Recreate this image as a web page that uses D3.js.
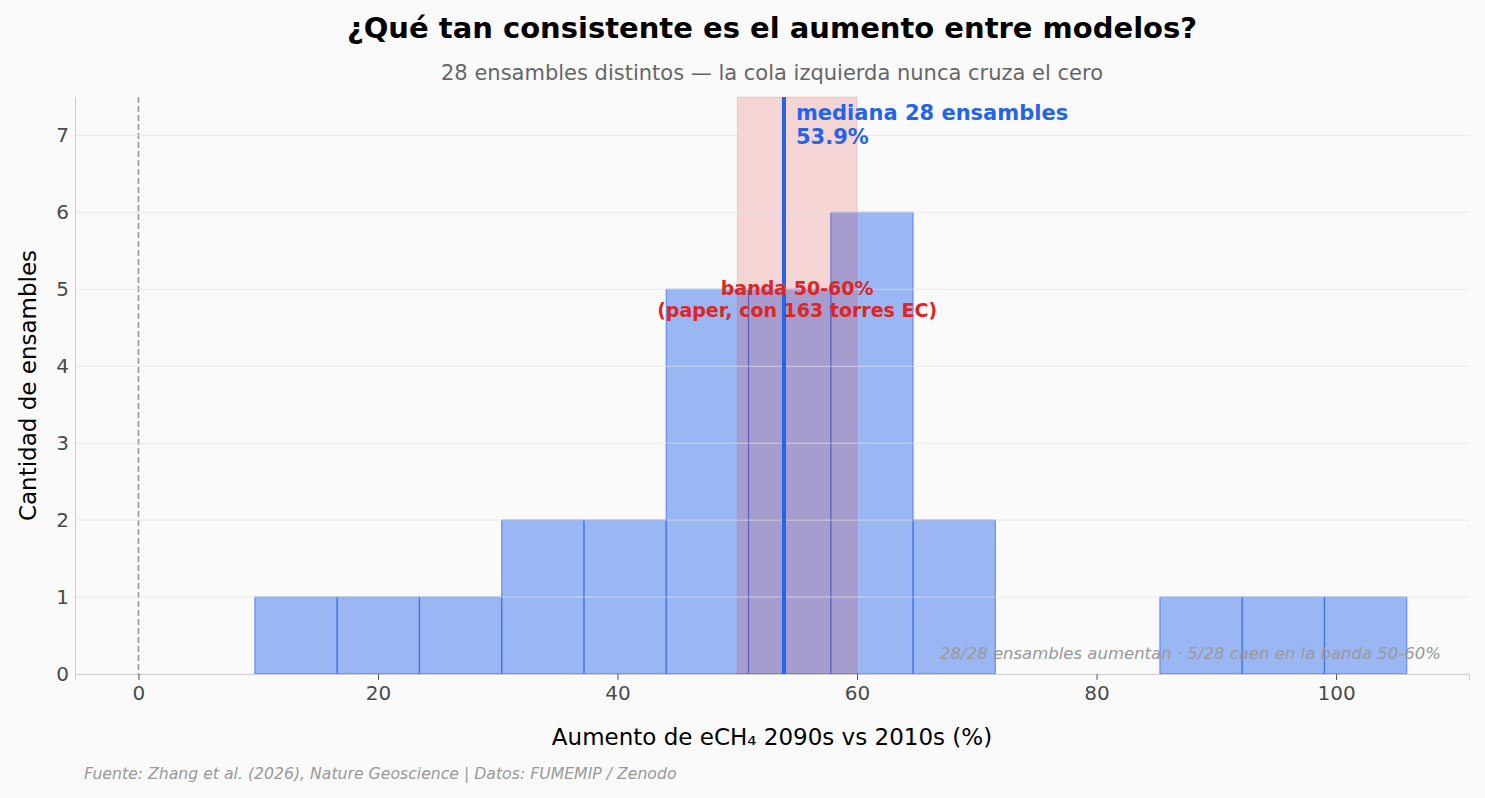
<!DOCTYPE html>
<html>
<head>
<meta charset="utf-8">
<script src="https://cdn.jsdelivr.net/npm/d3@7"></script>
<style>
  body { margin: 0; background: #fafafa; }
  text { font-family: "DejaVu Sans", sans-serif; }
</style>
</head>
<body>
<div id="chart"></div>
<script>
// histogram bins
const binEdges = [9.72, 16.59, 23.46, 30.33, 37.2, 44.07, 50.94, 57.81, 64.68, 71.55, 78.42, 85.29, 92.16, 99.03, 105.9];
const binCounts = [1, 1, 1, 2, 2, 5, 5, 6, 2, 0, 0, 1, 1, 1];
const xTicks = [0, 20, 40, 60, 80, 100];
const yTicks = [0, 1, 2, 3, 4, 5, 6, 7];
const median = 53.9;
const band = [50, 60];

const width = 1485, height = 798;
const plotLeft = 75, plotRight = 1469, plotTop = 97, plotBottom = 674;

const svg = d3.select("#chart").append("svg")
  .attr("width", width).attr("height", height)
  .style("background", "#fafafa");

const x = d3.scaleLinear().domain([-5.3, 111.1]).range([plotLeft, plotRight]);
const y = d3.scaleLinear().domain([0, 7.5]).range([plotBottom, plotTop]);

const bins = binCounts.map(function (c, i) {
  return { x0: binEdges[i], x1: binEdges[i + 1], n: c };
});

// zero line reference
svg.append("line")
  .attr("x1", x(0)).attr("x2", x(0))
  .attr("y1", plotTop).attr("y2", plotBottom)
  .attr("stroke", "#999").attr("stroke-width", 1.6)
  .attr("stroke-dasharray", "6,3");

// bars
svg.append("g").selectAll("rect")
  .data(bins).enter()
  .append("rect")
  .attr("x", function (d) { return x(d.x0); })
  .attr("width", function (d) { return x(d.x1) - x(d.x0); })
  .attr("y", function (d) { return y(d.n); })
  .attr("height", function (d) { return y(0) - y(d.n); })
  .attr("fill", "#2563eb").attr("fill-opacity", 0.45)
  .attr("stroke", "#2563eb").attr("stroke-opacity", 0.6)
  .attr("stroke-width", 1.2);

// band 50-60
svg.append("rect")
  .attr("x", x(band[0])).attr("width", x(band[1]) - x(band[0]))
  .attr("y", plotTop).attr("height", plotBottom - plotTop)
  .attr("fill", "#dc2626").attr("fill-opacity", 0.18)
  .attr("stroke", "#dc2626").attr("stroke-opacity", 0.15);

// grid
svg.append("g").selectAll("line")
  .data(yTicks.slice(1)).enter()
  .append("line")
  .attr("x1", plotLeft).attr("x2", plotRight)
  .attr("y1", function (d) { return y(d); })
  .attr("y2", function (d) { return y(d); })
  .attr("stroke", "#e2e2e2").attr("stroke-opacity", 0.7);

// median line
svg.append("line")
  .attr("x1", x(median)).attr("x2", x(median))
  .attr("y1", plotTop).attr("y2", plotBottom)
  .attr("stroke", "#2563eb").attr("stroke-width", 4);

const medLabel = svg.append("text")
  .attr("x", x(median + 1)).attr("y", y(7.4))
  .style("font-size", "21px").style("font-weight", "bold")
  .style("fill", "#2563eb");
medLabel.append("tspan").attr("x", x(median + 1)).attr("dy", "0.75em").text("mediana 28 ensambles");
medLabel.append("tspan").attr("x", x(median + 1)).attr("dy", "1.1em").text(median.toFixed(1) + "%");

const bandLabel = svg.append("text")
  .attr("x", x(55)).attr("y", y(5.1))
  .attr("text-anchor", "middle")
  .style("font-size", "19px").style("font-weight", "bold")
  .style("fill", "#dc2626");
bandLabel.append("tspan").attr("x", x(55)).attr("dy", "0.72em").text("banda 50-60%");
bandLabel.append("tspan").attr("x", x(55)).attr("dy", "1.15em").text("(paper, con 163 torres EC)");

// summary note
svg.append("text")
  .attr("x", 1441).attr("y", 659)
  .attr("text-anchor", "end")
  .style("font-size", "16.5px").style("font-style", "italic")
  .style("fill", "#999")
  .text("28/28 ensambles aumentan · 5/28 caen en la banda 50-60%");

// axes
const xAxis = svg.append("g")
  .attr("transform", "translate(0," + plotBottom + ")")
  .call(d3.axisBottom(x).tickValues(xTicks).tickSize(6).tickPadding(6));
xAxis.select(".domain").attr("stroke", "#ccc");
xAxis.selectAll(".tick line").attr("stroke", "#555");
xAxis.selectAll(".tick text").style("font-size", "20px").style("fill", "#4a4a4a")
  .style("font-family", "DejaVu Sans");

const yAxis = svg.append("g")
  .attr("transform", "translate(" + plotLeft + ",0)")
  .call(d3.axisLeft(y).tickValues(yTicks).tickSize(0).tickPadding(6));
yAxis.select(".domain").attr("stroke", "#ccc");
yAxis.selectAll(".tick text").style("font-size", "20px").style("fill", "#4a4a4a")
  .style("font-family", "DejaVu Sans");

// titles
svg.append("text")
  .attr("x", (plotLeft + plotRight) / 2).attr("y", 38)
  .attr("text-anchor", "middle")
  .style("font-size", "29px").style("font-weight", "bold")
  .text("¿Qué tan consistente es el aumento entre modelos?");

svg.append("text")
  .attr("x", (plotLeft + plotRight) / 2).attr("y", 80)
  .attr("text-anchor", "middle")
  .style("font-size", "21px").style("fill", "#666")
  .text("28 ensambles distintos — la cola izquierda nunca cruza el cero");

svg.append("text")
  .attr("x", (plotLeft + plotRight) / 2).attr("y", 745)
  .attr("text-anchor", "middle")
  .style("font-size", "23px")
  .text("Aumento de eCH₄ 2090s vs 2010s (%)");

svg.append("text")
  .attr("transform", "translate(36," + (plotTop + plotBottom) / 2 + ") rotate(-90)")
  .attr("text-anchor", "middle")
  .style("font-size", "23px")
  .text("Cantidad de ensambles");

svg.append("text")
  .attr("x", 84).attr("y", 779)
  .style("font-size", "15.7px").style("font-style", "italic")
  .style("fill", "#999")
  .text("Fuente: Zhang et al. (2026), Nature Geoscience | Datos: FUMEMIP / Zenodo");
</script>
</body>
</html>
